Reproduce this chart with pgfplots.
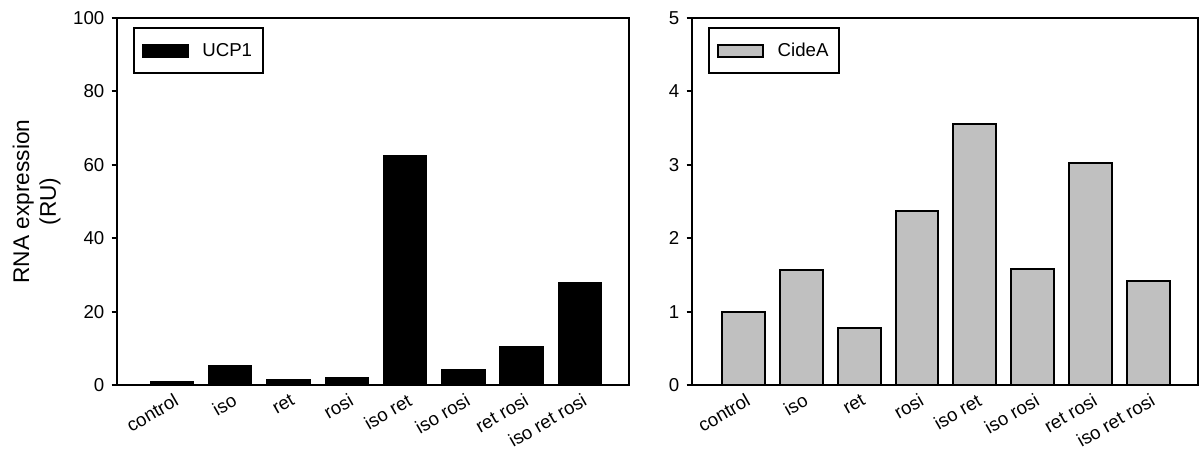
\documentclass[border=0pt]{standalone}
\usepackage{pgfplots}
\pgfplotsset{compat=1.18}
\usepackage{fontspec}
\setmainfont{Liberation Sans}
\definecolor{barsilver}{RGB}{192,192,192}
\pgfplotsset{
  myax/.style={
    scale only axis,
    height=275.25pt,
    anchor=south west,
    ymin=0,
    axis line style={line width=1.6pt},
    xtick=data,
    xticklabels={control,iso,ret,rosi,iso ret,iso rosi,ret rosi,iso ret rosi},
    x tick style={draw=none},
    ytick pos=left,
    y tick style={line width=1.4pt, black},
    tick align=outside,
    major tick length=4pt,
    /pgf/number format/assume math mode=true,
    tick label style={font=\fontsize{14}{16}\selectfont},
    xticklabel style={rotate=30, anchor=north east, inner sep=1pt, yshift=-1pt, xshift=1pt},
    yticklabel style={xshift=-2pt},
    legend style={at={(0,1)}, anchor=north west, xshift=12pt, yshift=-7pt,
      draw=black, line width=1.5pt, inner xsep=6pt, inner ysep=9pt,
      font=\fontsize{14}{16}\selectfont, legend cell align=left},
    ybar, bar width=0.74,
  },
  mylegimg/.style={legend image code/.code={\draw[##1, line width=1.5pt] (0pt,-4.5pt) rectangle (34pt,4.5pt); \path (42pt,0pt);}},
}
\begin{document}
\begin{tikzpicture}
\useasboundingbox (0,0) rectangle (900pt,337.5pt);
\begin{axis}[myax,
  at={(87.75pt,48.75pt)}, width=384pt,
  xmin=-0.94, xmax=7.84,
  ymax=100, ytick={0,20,40,60,80,100},
  ylabel={RNA expression\\(RU)},
  ylabel style={align=center, font=\fontsize{17}{20}\selectfont, at={(axis description cs:-0.157,0.5)}, anchor=center},
]
\addplot[fill=black, draw=black, line width=1pt, mylegimg] coordinates {
  (0,1.0) (1,5.4) (2,1.5) (3,2.0) (4,62.5) (5,4.1) (6,10.4) (7,27.9)};
\addlegendentry{UCP1\hspace{9pt}}
\end{axis}
\begin{axis}[myax,
  at={(519pt,48.75pt)}, width=379.5pt,
  xmin=-0.89, xmax=7.86,
  ymax=5, ytick={0,1,2,3,4,5},
]
\addplot[fill=barsilver, draw=black, line width=1.5pt, mylegimg] coordinates {
  (0,1.0) (1,1.57) (2,0.78) (3,2.37) (4,3.56) (5,1.58) (6,3.02) (7,1.42)};
\addlegendentry{CideA\hspace{6pt}}
\end{axis}
\end{tikzpicture}
\end{document}
